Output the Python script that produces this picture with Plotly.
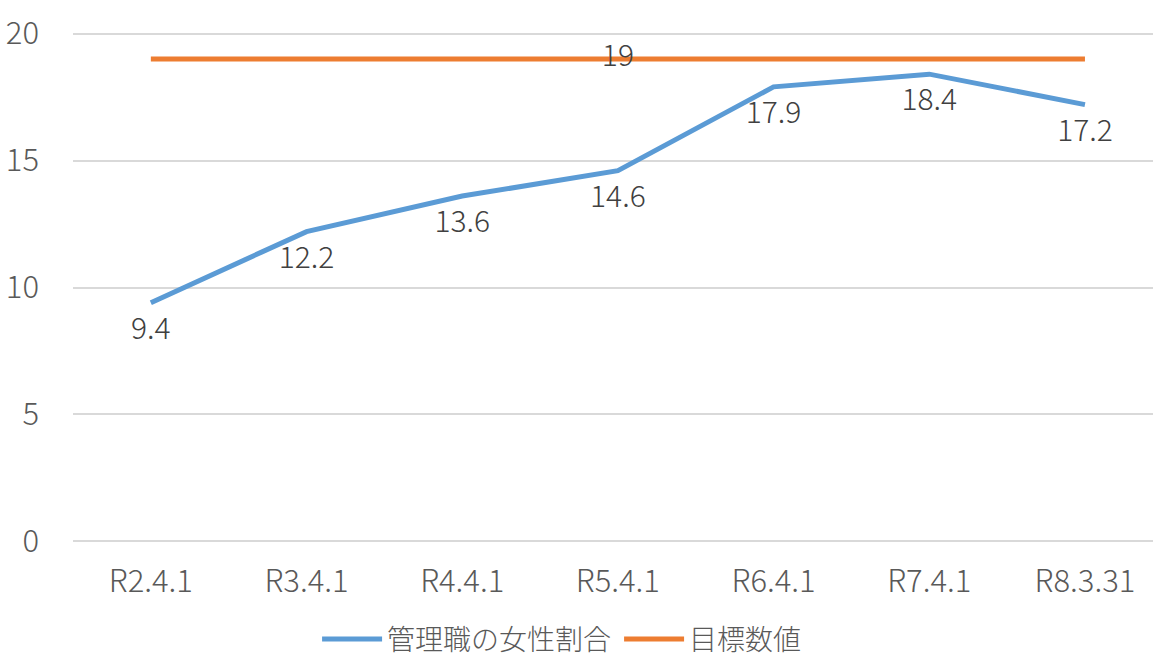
import plotly.graph_objects as go

categories = ["R2.4.1", "R3.4.1", "R4.4.1", "R5.4.1", "R6.4.1", "R7.4.1", "R8.3.31"]
ratio_values = [9.4, 12.2, 13.6, 14.6, 17.9, 18.4, 17.2]
target_values = [19, 19, 19, 19, 19, 19, 19]
target_label_index = 3

series_names = ["管理職の女性割合", "目標数値"]
ytick_vals = [0, 5, 10, 15, 20]

FONT = "Noto Sans CJK JP"
TXT = "#595959"
LBL = "#404040"

fig = go.Figure()
fig.add_trace(go.Scatter(
    x=categories, y=ratio_values, name=series_names[0],
    mode="lines+markers+text", text=[str(v) for v in ratio_values],
    textposition="bottom center",
    marker=dict(size=20, color="rgba(0,0,0,0)"),
    textfont=dict(family=FONT, size=30, color=LBL, weight=300),
    line=dict(color="#5B9BD5", width=5),
))
fig.add_trace(go.Scatter(
    x=categories, y=target_values, name=series_names[1],
    mode="lines+text",
    text=[str(v) if i == target_label_index else "" for i, v in enumerate(target_values)],
    textposition="middle center",
    textfont=dict(family=FONT, size=30, color=LBL, weight=300),
    line=dict(color="#ED7D31", width=5),
))

fig.update_layout(
    width=1153, height=659,
    margin=dict(l=73, r=0, t=30.5, b=114.5, autoexpand=False),
    paper_bgcolor="white", plot_bgcolor="white",
    font=dict(family=FONT, size=26, color=TXT, weight=300),
    showlegend=True,
    legend=dict(orientation="h", x=0.226, xanchor="left", y=-0.186, yanchor="middle",
                font=dict(family=FONT, size=28, color=TXT, weight=300), itemwidth=60,
                entrywidth=227, entrywidthmode="pixels"),
    xaxis=dict(range=[-0.5, 6.437], showgrid=False, zeroline=False, showline=False,
               automargin=False, ticks="", ticklabelstandoff=16,
               tickfont=dict(family=FONT, size=31, color=TXT, weight=300)),
    yaxis=dict(range=[-0.1, 20.1], tickvals=ytick_vals, showgrid=True,
               gridcolor="#d9d9d9", gridwidth=1.5, zeroline=False, showline=False,
               automargin=False, ticks="", ticklabelstandoff=33,
               tickfont=dict(family=FONT, size=31, color=TXT, weight=300)),
)
fig.write_html("out.html", config={"displayModeBar": False},
               post_script="document.body.style.margin='0';document.body.style.overflow='hidden';")
